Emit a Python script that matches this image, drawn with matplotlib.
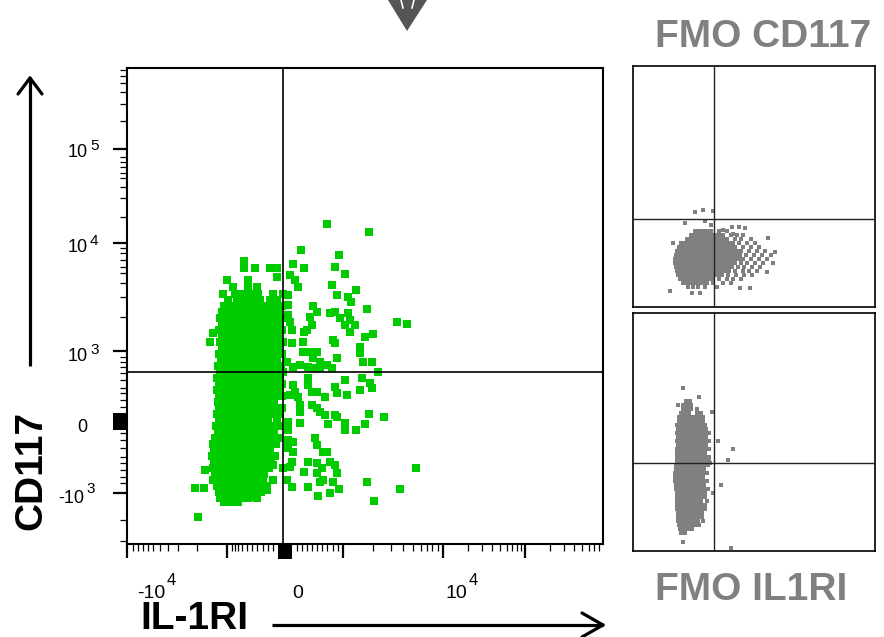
import numpy as np
import matplotlib.pyplot as plt
from matplotlib.patches import Rectangle, Polygon

plt.rcParams['font.family'] = ['Liberation Sans', 'DejaVu Sans']

# ---- data, in display channels of each plot ----
# main plot: CD117 (y) vs IL-1RI (x), channels 0..476
x_major = [0, 100, 216, 316, 398]
x_minor = [6, 11, 16, 21, 26, 33, 41, 51, 70,
           105, 108, 111, 115, 120, 125, 130, 136, 141, 146,
           170, 175, 180, 185, 190, 195, 200, 206, 211,
           246, 264, 276, 286, 294, 300, 305, 311,
           341, 355, 365, 373, 380, 385, 390, 394,
           423, 437, 447, 455, 462, 467, 472]
y_major = [51, 193, 301, 395]
y_minor = [3, 24, 61, 67, 74, 81, 87, 96, 104, 111,
           137, 144, 151, 156, 164, 171, 177, 182, 187,
           227, 247, 261, 271, 277, 284, 291, 296,
           327, 346, 357, 366, 371, 377, 382, 387,
           423, 440, 452, 461, 468, 474]
# tick labels as (base, exponent)
x_labels = [('-10', '4'), ('0', ''), ('10', '4')]
y_labels = [('10', '5'), ('10', '4'), ('10', '3'), ('0', ''), ('-10', '3')]
gate_x, gate_y = 156, 172

# dense population, row by row: (y, [x, ...])
green_rows = [
    (283, [117]),
    (276, [117, 128, 143, 150]),
    (267, [150]),
    (264, [100, 121]),
    (257, [106, 121, 130]),
    (250, [96, 108, 115, 123, 131, 146, 156]),
    (244, [101, 110, 118, 126, 133, 143, 150]),
    (238, [97, 104, 112, 119, 127, 134, 141, 149, 155]),
    (232, [95, 102, 109, 116, 123, 130, 137, 144, 151]),
    (226, [93, 100, 107, 114, 121, 128, 135, 142, 149, 156]),
    (220, [95, 102, 109, 116, 123, 130, 137, 144, 152]),
    (214, [92, 99, 106, 113, 120, 127, 134, 141, 148, 155]),
    (208, [95, 102, 109, 116, 123, 130, 137, 144, 151]),
    (202, [93, 100, 107, 114, 121, 128, 135, 142, 149, 156]),
    (196, [95, 102, 109, 116, 123, 130, 137, 144, 151]),
    (190, [92, 99, 106, 113, 120, 127, 134, 141, 148, 155]),
    (184, [94, 101, 108, 115, 122, 129, 136, 143, 150]),
    (178, [91, 98, 105, 112, 119, 126, 133, 140, 147, 154]),
    (172, [93, 100, 107, 114, 121, 128, 135, 142, 149, 156]),
    (166, [90, 97, 104, 111, 118, 125, 132, 139, 146, 153]),
    (160, [92, 99, 106, 113, 120, 127, 134, 141, 148, 155]),
    (154, [90, 97, 104, 111, 118, 125, 132, 139, 146, 153]),
    (148, [92, 99, 106, 113, 120, 127, 134, 141, 148, 155]),
    (142, [91, 98, 105, 112, 119, 126, 133, 140, 147]),
    (136, [92, 99, 106, 113, 120, 127, 134, 141, 148, 155]),
    (130, [90, 97, 104, 111, 118, 125, 132, 139, 146, 153]),
    (124, [92, 99, 106, 113, 120, 127, 134, 141, 150]),
    (118, [89, 96, 103, 110, 117, 124, 131, 138, 145, 152]),
    (112, [91, 98, 105, 112, 119, 126, 133, 140, 147]),
    (106, [88, 95, 102, 109, 116, 123, 130, 137, 144, 151]),
    (100, [86, 93, 100, 107, 114, 121, 128, 135, 142, 149]),
    (94, [87, 94, 101, 108, 115, 122, 129, 136, 143]),
    (88, [85, 92, 99, 106, 113, 120, 127, 134, 141, 148]),
    (82, [87, 94, 101, 108, 115, 122, 129, 136, 144]),
    (76, [86, 93, 100, 107, 114, 121, 128, 135, 142]),
    (70, [88, 95, 102, 109, 116, 123, 130, 137]),
    (64, [86, 93, 100, 107, 114, 121, 128, 136, 146]),
    (58, [90, 97, 104, 111, 118, 125, 132, 140]),
    (52, [92, 99, 106, 113, 120, 127, 134]),
    (46, [93, 100, 107, 114, 121, 130]),
    (42, [97, 104, 111]),
]
# sparse events around the dense population: (x, y)
green_sparse = [
    (200, 320), (242, 312), (174, 294), (212, 289), (166, 280), (177, 276), (208, 277),
    (218, 270), (163, 269), (168, 264), (171, 257), (205, 259), (229, 254), (210, 249),
    (221, 247), (224, 242), (240, 235), (161, 249), (161, 239), (161, 229), (186, 238),
    (190, 232), (203, 231), (208, 232), (221, 231), (223, 224), (163, 222), (165, 214),
    (183, 227), (185, 219), (180, 214), (177, 212), (213, 226), (218, 219), (223, 212),
    (228, 219), (270, 222), (280, 220), (246, 210), (238, 207), (206, 204), (208, 201),
    (176, 202), (165, 201), (233, 197), (233, 191), (176, 192), (183, 192), (190, 192),
    (186, 186), (193, 182), (200, 179), (210, 186), (236, 182), (245, 182), (160, 182),
    (166, 177), (173, 179), (205, 176), (181, 177), (186, 176), (193, 176), (251, 172),
    (235, 166), (181, 166), (181, 159), (218, 164), (243, 161), (245, 156), (166, 159),
    (168, 152), (171, 147), (163, 149), (208, 157), (210, 151), (233, 154), (185, 152),
    (190, 152), (198, 147), (220, 149), (173, 139), (173, 132), (185, 139), (190, 136),
    (193, 132), (198, 129), (208, 129), (210, 127), (242, 130), (257, 127), (201, 120),
    (218, 121), (218, 114), (229, 114), (238, 120), (161, 122), (161, 114), (161, 104),
    (161, 96), (173, 121), (166, 102), (188, 106), (190, 99), (196, 92), (200, 92),
    (166, 92), (165, 82), (163, 77), (181, 82), (190, 81), (195, 76), (203, 82), (208, 79),
    (210, 71), (190, 71), (196, 64), (206, 62), (193, 62), (177, 72), (289, 76), (160, 64),
    (165, 57), (181, 57), (191, 48), (203, 51), (212, 55), (240, 62), (273, 55), (247, 43),
    (86, 211), (83, 202), (78, 74), (68, 56), (77, 56), (71, 27), (146, 79), (156, 76),
    (140, 54), (128, 47),
]

# FMO CD117 panel, channels 0..242 x 0..241
fmo_cd_gate = (81, 88)
fmo_cd_rows = [
    (76, [62, 66, 70, 74, 78, 86, 94]),
    (72, [58, 62, 66, 70, 74, 78, 82, 86, 90, 98, 104, 110]),
    (68, [54, 58, 62, 66, 70, 74, 78, 82, 86, 90, 94, 102, 108, 118]),
    (64, [48, 52, 56, 60, 64, 68, 72, 76, 80, 84, 88, 92, 96, 100, 106, 114, 122]),
    (60, [46, 50, 54, 58, 62, 66, 70, 74, 78, 82, 86, 90, 94, 98, 102, 110, 118, 126]),
    (56, [44, 48, 52, 56, 60, 64, 68, 72, 76, 80, 84, 88, 92, 96, 100, 104, 108, 116, 124, 132]),
    (52, [43, 47, 51, 55, 59, 63, 67, 71, 75, 79, 83, 87, 91, 95, 99, 103, 107, 113, 121, 129, 138]),
    (48, [42, 46, 50, 54, 58, 62, 66, 70, 74, 78, 82, 86, 90, 94, 98, 102, 106, 110, 118, 126, 134]),
    (44, [42, 46, 50, 54, 58, 62, 66, 70, 74, 78, 82, 86, 90, 94, 98, 102, 108, 114, 122, 130, 140]),
    (40, [43, 47, 51, 55, 59, 63, 67, 71, 75, 79, 83, 87, 91, 95, 99, 105, 111, 119, 127]),
    (36, [44, 48, 52, 56, 60, 64, 68, 72, 76, 80, 84, 88, 92, 96, 102, 110, 116, 124]),
    (32, [45, 49, 53, 57, 61, 65, 69, 73, 77, 81, 85, 89, 95, 103, 111, 119]),
    (28, [47, 51, 55, 59, 63, 67, 71, 75, 79, 86, 94, 100, 108]),
    (24, [50, 54, 58, 62, 66, 70, 74, 80, 90, 98]),
    (20, [55, 60, 65, 72, 84]),
]
fmo_cd_sparse = [
    (62, 95), (70, 97), (80, 96), (52, 84), (40, 64), (37, 16), (59, 14), (67, 14),
    (117, 19), (107, 19), (135, 69), (142, 55), (134, 35), (72, 86), (78, 82), (99, 80),
    (106, 80), (112, 79), (90, 77), (100, 73),
]

# FMO IL1RI panel, channels 0..242 x 0..238
fmo_il_gate = (81, 88)
fmo_il_rows = [
    (150, [53, 57]),
    (146, [50, 54, 58]),
    (142, [50, 54, 58, 64]),
    (138, [48, 52, 56, 64, 68]),
    (134, [46, 50, 54, 58, 62, 66, 70]),
    (130, [46, 50, 54, 58, 62, 66, 70]),
    (126, [44, 48, 52, 56, 60, 64, 68, 72]),
    (122, [45, 49, 53, 57, 61, 65, 69, 73]),
    (118, [44, 48, 52, 56, 60, 64, 68, 72, 76]),
    (114, [45, 49, 53, 57, 61, 65, 69, 73]),
    (110, [44, 48, 52, 56, 60, 64, 68, 72, 76]),
    (106, [45, 49, 53, 57, 61, 65, 69, 73]),
    (102, [44, 48, 52, 56, 60, 64, 68, 72, 76]),
    (98, [44, 48, 52, 56, 60, 64, 68, 72]),
    (94, [44, 48, 52, 56, 60, 64, 68, 72, 76]),
    (90, [44, 48, 52, 56, 60, 64, 68, 72, 76]),
    (86, [43, 47, 51, 55, 59, 63, 67, 71, 75]),
    (82, [43, 47, 51, 55, 59, 63, 67, 71]),
    (78, [42, 46, 50, 54, 58, 62, 66, 70, 74]),
    (74, [42, 46, 50, 54, 58, 62, 66, 70]),
    (70, [42, 46, 50, 54, 58, 62, 66, 70, 74]),
    (66, [43, 47, 51, 55, 59, 63, 67, 71]),
    (62, [43, 47, 51, 55, 59, 63, 67, 71, 75]),
    (58, [44, 48, 52, 56, 60, 64, 68, 72]),
    (54, [44, 48, 52, 56, 60, 64, 68, 72]),
    (50, [44, 48, 52, 56, 60, 64, 68, 74]),
    (46, [44, 48, 52, 56, 60, 64, 68, 72]),
    (42, [44, 48, 52, 56, 60, 64, 68, 72]),
    (38, [45, 49, 53, 57, 61, 65, 69]),
    (34, [45, 49, 53, 57, 61, 65, 69]),
    (30, [45, 49, 53, 57, 61, 65, 70]),
    (26, [46, 50, 54, 58, 62, 66]),
    (22, [47, 51, 55, 59]),
    (18, [48, 52]),
]
fmo_il_sparse = [
    (50, 163), (66, 154), (79, 139), (45, 146), (85, 110), (100, 102), (95, 91),
    (88, 66), (80, 58), (98, 3), (50, 9), (77, 88),
]


def unpack(rows, sparse):
    xs, ys = [], []
    for y, row in rows:
        xs += row
        ys += [y] * len(row)
    xs += [p[0] for p in sparse]
    ys += [p[1] for p in sparse]
    return np.array(xs), np.array(ys)


W, H = 884, 637
fig = plt.figure(figsize=(W / 100, H / 100), dpi=100)


def px_axes(l, t, r, b, **kw):
    return fig.add_axes([l / W, 1 - b / H, (r - l) / W, (b - t) / H], **kw)


GREEN = '#00cc00'
GREY = '#808080'

# main plot
ax = px_axes(127, 68, 603, 544)
gx, gy = unpack(green_rows, green_sparse)
ax.plot(gx, gy, 's', ms=5.2, mew=0, color=GREEN, zorder=2)
ax.axvline(gate_x, color='black', lw=1.2, zorder=3)
ax.axhline(gate_y, color='black', lw=1.2, zorder=3)
ax.set_xlim(0, 476)
ax.set_ylim(0, 476)
ax.set_xticks(x_major)
ax.set_xticks(x_minor, minor=True)
ax.set_yticks(y_major)
ax.set_yticks(y_minor, minor=True)
ax.set_xticklabels([])
ax.set_yticklabels([])
ax.tick_params(which='major', length=10, width=1.6, direction='out', color='black')
ax.tick_params(which='minor', length=5, width=0.9, direction='out', color='black')
for s in ax.spines.values():
    s.set_linewidth(1.5)

# FMO panels
for rect, rows, sparse, gate, ylim in [
        ((633, 66, 875, 307), fmo_cd_rows, fmo_cd_sparse, fmo_cd_gate, 241),
        ((633, 313, 875, 551), fmo_il_rows, fmo_il_sparse, fmo_il_gate, 238)]:
    a = px_axes(*rect)
    px, py = unpack(rows, sparse)
    a.plot(px, py, 's', ms=3.0, mew=0, color=GREY, zorder=2)
    a.axvline(gate[0], color='#222222', lw=1.0, zorder=3)
    a.axhline(gate[1], color='#222222', lw=1.0, zorder=3)
    a.set_xlim(0, 242)
    a.set_ylim(0, ylim)
    a.set_xticks([])
    a.set_yticks([])
    for s in a.spines.values():
        s.set_linewidth(1.2)

# overlay in figure pixels for labels, arrows and decorations
ov = fig.add_axes([0, 0, 1, 1], zorder=5)
ov.set_xlim(0, W)
ov.set_ylim(H, 0)
ov.axis('off')
ov.patch.set_alpha(0)

# zero-region tick blocks
ov.add_patch(Rectangle((278, 544), 14, 15, color='black', lw=0))
ov.add_patch(Rectangle((113, 413), 14, 17, color='black', lw=0))


def power_label(x, y, base, exp, size, raise_by):
    # base digits end at x (baseline y); exponent sits just right of them, raised
    if not exp:
        ov.text(x, y, base, ha='center', va='baseline', fontsize=size)
        return
    ov.text(x, y, base, ha='right', va='baseline', fontsize=size)
    ov.text(x + 2, y - raise_by, exp, ha='left', va='baseline', fontsize=size * 0.85)


for (b, e), (x, y) in zip(x_labels, [(165, 598), (298, 598), (467, 598)]):
    power_label(x, y, b, e, 14, 13)
for (b, e), (x, y) in zip(y_labels, [(88, 157), (88, 252), (88, 361), (82, 432), (84, 503)]):
    power_label(x, y, b, e, 13, 7 if b != '-10' else 10)


def arrow(x0, y0, x1, y1, hl, hw):
    ov.plot([x0, x1], [y0, y1], color='black', lw=2.3, solid_capstyle='butt')
    d = np.array([x1 - x0, y1 - y0], float)
    d /= np.hypot(*d)
    n = np.array([-d[1], d[0]])
    tip = np.array([x1, y1])
    base = tip - d * hl
    for side in (1, -1):
        p = base + side * n * hw
        ov.plot([p[0], tip[0]], [p[1], tip[1]], color='black', lw=2.3,
                solid_capstyle='round')


arrow(30, 366, 30, 78, 16, 12)
arrow(272, 625, 603, 625, 21, 12)

# down-arrow fragment at the top
ov.add_patch(Polygon([(388, 0), (427, 0), (407, 31)], closed=True, color='#555555', lw=0))
ov.plot([401, 403], [0, 8], color='white', lw=1.2)
ov.plot([414, 412], [0, 8], color='white', lw=1.2)

bold = dict(fontsize=28, fontweight='bold')
ov.text(31, 470, 'CD117', rotation=90, ha='center', va='center', color='black', **bold)
ov.text(140, 629, 'IL-1RI', ha='left', va='baseline', color='black', **bold)
ov.text(655, 47, 'FMO CD117', ha='left', va='baseline', color=GREY, **bold)
ov.text(655, 600, 'FMO IL1RI', ha='left', va='baseline', color=GREY, **bold)

fig.savefig('out.png', dpi=100)
